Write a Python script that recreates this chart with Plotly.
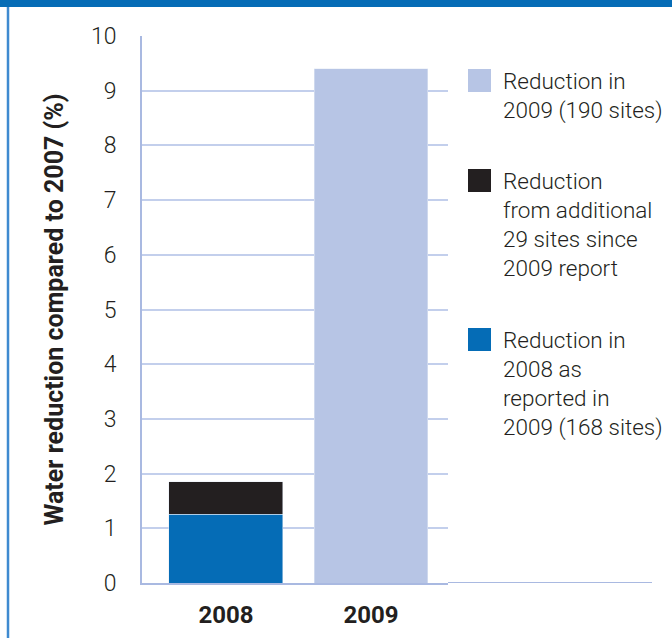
import plotly.graph_objects as go

# Categories and series values (% water reduction vs 2007)
years = ["2008", "2009"]
reported_2008 = [1.26, None]
additional_sites = [0.59, None]
reduction_2009 = [None, 9.40]

legend_names = [
    ["Reduction in", "2009 (190 sites)"],
    ["Reduction", "from additional", "29 sites since", "2009 report"],
    ["Reduction in", "2008 as", "reported in", "2009 (168 sites)"],
]

C_LIGHT = "#b7c5e5"
C_DARK = "#231f20"
C_BLUE = "#056cb6"
AXIS_C = "#a9b9e1"
GRID_C = "#c3cfec"
TEXT_C = "#231f20"
FONT = "Roboto"

W, H = 672, 638
L, R, T, B = 142, 224, 36, 55
PW = W - L - R
PH = H - T - B


def px_x(p):
    return (p - L) / PW


def px_y(p):
    return (H - B - p) / PH


fig = go.Figure()
fig.add_trace(go.Bar(x=years, y=reported_2008, marker_color=C_BLUE,
                     name=" ".join(legend_names[2]), width=0.786))
fig.add_trace(go.Bar(x=years, y=additional_sites, marker_color=C_DARK,
                     name=" ".join(legend_names[1]), width=0.786))
fig.add_trace(go.Bar(x=years, y=reduction_2009, marker_color=C_LIGHT,
                     name=" ".join(legend_names[0]), width=0.786))

fig.update_layout(
    width=W, height=H,
    margin=dict(l=L, r=R, t=T, b=B, autoexpand=False),
    paper_bgcolor="white", plot_bgcolor="white",
    barmode="stack", showlegend=False,
    font=dict(family=FONT, color=TEXT_C),
)

fig.update_xaxes(
    type="category", range=[-0.579, 1.531], automargin=False,
    showline=True, linecolor=AXIS_C, linewidth=2,
    showgrid=False, ticks="",
    tickfont=dict(size=24, weight="bold", color=TEXT_C),
    ticklabelstandoff=9,
)
fig.update_yaxes(
    range=[0, 10], dtick=1, automargin=False,
    showline=True, linecolor=AXIS_C, linewidth=2,
    showgrid=True, gridcolor=GRID_C, gridwidth=2,
    zeroline=False, ticks="",
    tickfont=dict(size=23, weight=300, color=TEXT_C),
    ticklabelstandoff=19,
    title=dict(text="Water reduction compared to 2007 (%)",
               font=dict(size=25, weight="bold", color=TEXT_C), standoff=20),
)

shapes = []
# header band and left frame rule
shapes.append(dict(type="rect", xref="paper", yref="paper",
                   x0=px_x(0), x1=px_x(W), y0=px_y(7), y1=px_y(0),
                   fillcolor=C_BLUE, line_width=0, layer="above"))
shapes.append(dict(type="line", xref="paper", yref="paper",
                   x0=px_x(8), x1=px_x(8), y0=px_y(7), y1=px_y(H),
                   line=dict(color="#3f8ad0", width=2.5)))
# baseline continues under the legend
shapes.append(dict(type="line", xref="paper", yref="y",
                   x0=1, x1=px_x(652), y0=0, y1=0,
                   line=dict(color=AXIS_C, width=2)))

# legend swatches and labels
legend_colors = [C_LIGHT, C_DARK, C_BLUE]
swatch_tops = [69, 169, 328]
annotations = []
for name_lines, col, top in zip(legend_names, legend_colors, swatch_tops):
    shapes.append(dict(type="rect", xref="paper", yref="paper",
                       x0=px_x(468), x1=px_x(491), y0=px_y(top + 23), y1=px_y(top),
                       fillcolor=col, line_width=0))
    for i, line in enumerate(name_lines):
        cy = top + 12 + i * 29
        annotations.append(dict(xref="paper", yref="paper", x=px_x(501), y=px_y(cy),
                                xanchor="left", yanchor="middle", showarrow=False,
                                text=line, font=dict(size=22.5, weight=300, color=TEXT_C)))

fig.update_layout(shapes=shapes, annotations=annotations)
fig.write_html("out.html")
